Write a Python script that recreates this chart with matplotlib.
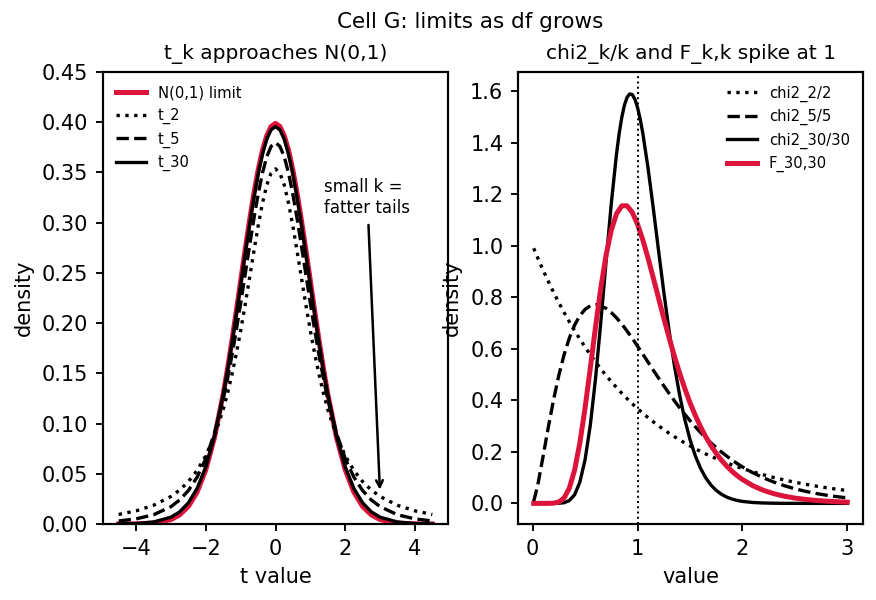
import matplotlib
matplotlib.use("Agg")
import matplotlib.pyplot as plt
import numpy as np

# ---------------- left panel data ----------------
t_x = [-4.5, -4.0, -3.5, -3.0, -2.75, -2.5, -2.25, -2.0, -1.75, -1.5, -1.375, -1.25, -1.125,
       -1.0, -0.875, -0.75, -0.625, -0.5, -0.375, -0.25, -0.125, 0.0,
       0.125, 0.25, 0.375, 0.5, 0.625, 0.75, 0.875, 1.0, 1.125, 1.25, 1.375, 1.5,
       1.75, 2.0, 2.25, 2.5, 2.75, 3.0, 3.5, 4.0, 4.5]

normal_pdf = [0.0000, 0.0001, 0.0009, 0.0044, 0.0091, 0.0175, 0.0317, 0.0540, 0.0863, 0.1295,
              0.1550, 0.1826, 0.2119, 0.2420, 0.2721, 0.3011, 0.3282, 0.3521, 0.3719, 0.3867,
              0.3958, 0.3989,
              0.3958, 0.3867, 0.3719, 0.3521, 0.3282, 0.3011, 0.2721, 0.2420, 0.2119, 0.1826,
              0.1550, 0.1295, 0.0863, 0.0540, 0.0317, 0.0175, 0.0091, 0.0044, 0.0009, 0.0001, 0.0000]

t2_pdf = [0.0095, 0.0131, 0.0186, 0.0274, 0.0338, 0.0422, 0.0533, 0.0680, 0.0878, 0.1141,
          0.1303, 0.1487, 0.1695, 0.1925, 0.2174, 0.2438, 0.2705, 0.2963, 0.3193, 0.3376,
          0.3494, 0.3536,
          0.3494, 0.3376, 0.3193, 0.2963, 0.2705, 0.2438, 0.2174, 0.1925, 0.1695, 0.1487,
          0.1303, 0.1141, 0.0878, 0.0680, 0.0533, 0.0422, 0.0338, 0.0274, 0.0186, 0.0131, 0.0095]

t5_pdf = [0.0030, 0.0051, 0.0092, 0.0173, 0.0239, 0.0333, 0.0466, 0.0651, 0.0905, 0.1245,
          0.1450, 0.1679, 0.1929, 0.2197, 0.2476, 0.2757, 0.3029, 0.3279, 0.3493, 0.3657,
          0.3761, 0.3796,
          0.3761, 0.3657, 0.3493, 0.3279, 0.3029, 0.2757, 0.2476, 0.2197, 0.1929, 0.1679,
          0.1450, 0.1245, 0.0905, 0.0651, 0.0466, 0.0333, 0.0239, 0.0173, 0.0092, 0.0051, 0.0030]

t30_pdf = [0.0001, 0.0005, 0.0020, 0.0068, 0.0121, 0.0211, 0.0353, 0.0569, 0.0877, 0.1290,
           0.1531, 0.1801, 0.2085, 0.2380, 0.2677, 0.2967, 0.3237, 0.3479, 0.3680, 0.3831,
           0.3925, 0.3956,
           0.3925, 0.3831, 0.3680, 0.3479, 0.3237, 0.2967, 0.2677, 0.2380, 0.2085, 0.1801,
           0.1531, 0.1290, 0.0877, 0.0569, 0.0353, 0.0211, 0.0121, 0.0068, 0.0020, 0.0005, 0.0001]

# ---------------- right panel data ----------------
v_x = [0.01, 0.05, 0.10, 0.15, 0.20, 0.25, 0.30, 0.35, 0.40, 0.45, 0.50,
       0.55, 0.60, 0.65, 0.70, 0.75, 0.80, 0.85, 0.90, 0.95, 1.00,
       1.05, 1.10, 1.15, 1.20, 1.25, 1.30, 1.35, 1.40, 1.45, 1.50,
       1.55, 1.60, 1.65, 1.70, 1.75, 1.80, 1.85, 1.90, 1.95, 2.00,
       2.1, 2.2, 2.3, 2.4, 2.5, 2.6, 2.7, 2.8, 2.9, 3.0]

chi2_2 = [0.9900, 0.9512, 0.9048, 0.8607, 0.8187, 0.7788, 0.7408, 0.7047, 0.6703, 0.6376, 0.6065,
          0.5769, 0.5488, 0.5220, 0.4966, 0.4724, 0.4493, 0.4274, 0.4066, 0.3867, 0.3679,
          0.3499, 0.3329, 0.3166, 0.3012, 0.2865, 0.2725, 0.2592, 0.2466, 0.2346, 0.2231,
          0.2122, 0.2019, 0.1920, 0.1827, 0.1738, 0.1653, 0.1572, 0.1496, 0.1423, 0.1353,
          0.1225, 0.1108, 0.1003, 0.0907, 0.0821, 0.0743, 0.0672, 0.0608, 0.0550, 0.0498]

chi2_5 = [0.0073, 0.0734, 0.1831, 0.2968, 0.4033, 0.4974, 0.5770, 0.6417, 0.6919, 0.7285, 0.7530,
          0.7667, 0.7709, 0.7671, 0.7566, 0.7405, 0.7199, 0.6958, 0.6690, 0.6403, 0.6102,
          0.5794, 0.5483, 0.5172, 0.4865, 0.4565, 0.4272, 0.3990, 0.3719, 0.3459, 0.3212,
          0.2977, 0.2756, 0.2547, 0.2350, 0.2166, 0.1994, 0.1834, 0.1684, 0.1546, 0.1417,
          0.1187, 0.0991, 0.0825, 0.0685, 0.0567, 0.0469, 0.0386, 0.0318, 0.0261, 0.0214]

chi2_30_x = [0.01, 0.05, 0.10, 0.15, 0.20, 0.25, 0.30, 0.35, 0.40, 0.45, 0.50,
             0.55, 0.60, 0.65, 0.70, 0.75, 0.80, 0.825, 0.85, 0.875, 0.90, 0.925, 0.95, 0.975, 1.00,
             1.025, 1.05, 1.10, 1.15, 1.20, 1.25, 1.30, 1.35, 1.40, 1.45, 1.50,
             1.55, 1.60, 1.65, 1.70, 1.75, 1.80, 1.85, 1.90, 1.95, 2.00,
             2.1, 2.2, 2.3, 2.4, 2.5, 2.6, 2.7, 2.8, 2.9, 3.0]

chi2_30 = [0.0000, 0.0000, 0.0000, 0.0000, 0.0000, 0.0004, 0.0027, 0.0109, 0.0334, 0.0821, 0.1696,
           0.3042, 0.4858, 0.7037, 0.9381, 1.1641, 1.3573, 1.4352, 1.4982, 1.5451, 1.5753, 1.5889,
           1.5863, 1.5684, 1.5365,
           1.4922, 1.4370, 1.3020, 1.1459, 0.9822, 0.8216, 0.6721, 0.5385, 0.4232, 0.3267, 0.2481,
           0.1855, 0.1366, 0.0993, 0.0712, 0.0505, 0.0354, 0.0245, 0.0168, 0.0114, 0.0077,
           0.0034, 0.0015, 0.0006, 0.0002, 0.0001, 0.0000, 0.0000, 0.0000, 0.0000, 0.0000]

f_30_30 = [0.0000, 0.0000, 0.0000, 0.0001, 0.0008, 0.0054, 0.0212, 0.0592, 0.1290, 0.2342, 0.3703,
           0.5258, 0.6859, 0.8356, 0.9630, 1.0603, 1.1241, 1.1546, 1.1548, 1.1293, 1.0835,
           1.0227, 0.9520, 0.8757, 0.7972, 0.7194, 0.6443, 0.5733, 0.5072, 0.4466, 0.3907,
           0.3421, 0.2980, 0.2589, 0.2244, 0.1942, 0.1678, 0.1448, 0.1248, 0.1075, 0.0926,
           0.0685, 0.0507, 0.0375, 0.0278, 0.0206, 0.0154, 0.0114, 0.0086, 0.0064, 0.0048]

CRIMSON = "#DC143C"

fig = plt.figure(figsize=(5.84, 4.0), dpi=150)
ax1 = fig.add_axes([103 / 876, 76 / 600, 345 / 876, 452 / 600])
ax2 = fig.add_axes([518 / 876, 76 / 600, 345 / 876, 452 / 600])

fig.suptitle("Cell G: limits as df grows", fontsize=10.3, x=470 / 876, y=0.98)

# left panel
ax1.plot(t_x, normal_pdf, color=CRIMSON, lw=2.4, label="N(0,1) limit")
ax1.plot(t_x, t2_pdf, color="black", ls=":", lw=1.6, label="t_2")
ax1.plot(t_x, t5_pdf, color="black", ls="--", lw=1.6, label="t_5")
ax1.plot(t_x, t30_pdf, color="black", ls="-", lw=1.6, label="t_30")
ax1.set_ylim(0, 0.45)
ax1.set_yticks(np.arange(0, 0.451, 0.05))
ax1.set_title("t_k approaches N(0,1)", fontsize=9.7)
ax1.set_xlabel("t value", fontsize=10)
ax1.set_ylabel("density", fontsize=10)
ax1.legend(loc="upper left", frameon=False, fontsize=7.1)
ax1.annotate("small k =\nfatter tails", xy=(3.0, 0.03), xytext=(1.4, 0.31),
             fontsize=8, arrowprops=dict(arrowstyle="->", color="black", lw=1.2))

# right panel
ax2.plot(v_x, chi2_2, color="black", ls=":", lw=1.6, label="chi2_2/2")
ax2.plot(v_x, chi2_5, color="black", ls="--", lw=1.6, label="chi2_5/5")
ax2.plot(chi2_30_x, chi2_30, color="black", ls="-", lw=1.6, label="chi2_30/30")
ax2.plot(v_x, f_30_30, color=CRIMSON, lw=2.4, label="F_30,30")
ax2.axvline(1.0, color="black", ls=":", lw=0.95)
ax2.set_ylim(-0.08, 1.674)
ax2.set_title("chi2_k/k and F_k,k spike at 1", fontsize=9.7)
ax2.set_xlabel("value", fontsize=10)
ax2.set_ylabel("density", fontsize=10)
ax2.legend(loc="upper right", frameon=False, fontsize=7.1)

for ax in (ax1, ax2):
    ax.tick_params(labelsize=10, width=0.9)
    for s in ax.spines.values():
        s.set_linewidth(1.05)

fig.savefig("out.png", dpi=150)
